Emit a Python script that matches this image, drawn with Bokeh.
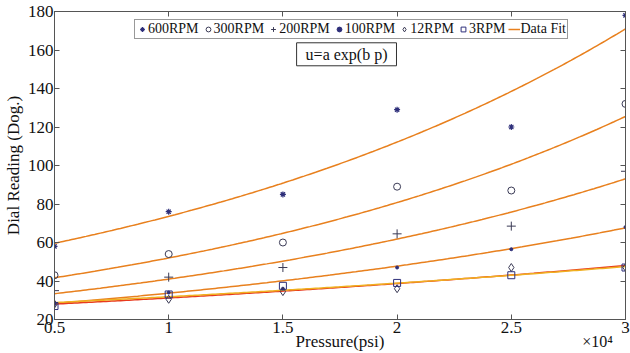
import numpy as np
from bokeh.plotting import figure
from bokeh.models import Range1d, LinearAxis, Legend, LegendItem, Label, FixedTicker
from bokeh.embed import file_html
from bokeh.resources import INLINE

# ---- data ----
pressure = [5000, 10000, 15000, 20000, 25000, 30000]
rpm600 = [58, 76, 85, 129, 120, 178]
rpm300 = [43, 54, 60, 89, 87, 132]
rpm200 = [35, 42, 47, 64.5, 68.5, 97]
rpm100 = [28, 34, 36, 47, 56.5, 68]
rpm12 = [28, 30.5, 34.5, 36, 47, 47]
rpm3 = [27, 33, 37.5, 39, 43, 47]

# fit parameters u = a*exp(b*p)
fit_a = [48.27, 33.45, 27.21, 23.78, 25.14, 26.06]
fit_b = [4.216e-5, 4.407e-5, 4.100e-5, 3.483e-5, 2.156e-5, 2.001e-5]
fit_colors = ["#E8801E", "#E8801E", "#E8801E", "#E8801E", "#E83A1E", "#F0B020"]

x_ticks = [5000, 10000, 15000, 20000, 25000, 30000]
x_tick_labels = ["0.5", "1", "1.5", "2", "2.5", "3"]
y_ticks = [20, 40, 60, 80, 100, 120, 140, 160, 180]
x_exponent_pos = [28780]
x_exponent_label = ["\u00d710\u2074"]

FONT = "Liberation Serif"
NAVY = "#2E2F7A"
DARK = "#3A3A55"

p = figure(width=630, height=353, output_backend="svg", toolbar_location=None,
           x_range=Range1d(5000, 30000), y_range=Range1d(20, 180),
           min_border_left=49, min_border_right=5, min_border_top=11, min_border_bottom=34)
p.xgrid.visible = False
p.ygrid.visible = False
p.outline_line_color = "#555555"
p.background_fill_color = "white"
p.border_fill_color = "white"

for ax in (p.xaxis[0], p.yaxis[0]):
    ax.major_tick_in = 5
    ax.major_tick_out = 0
    ax.minor_tick_in = 0
    ax.minor_tick_out = 0
    ax.axis_line_color = "#555555"
    ax.major_tick_line_color = "#555555"
    ax.major_label_text_font = FONT
    ax.major_label_text_font_size = "17px"
    ax.major_label_text_color = "#111111"
    ax.axis_label_text_font = FONT
    ax.axis_label_text_font_size = "17px"
    ax.axis_label_text_font_style = "normal"
    ax.axis_label_text_color = "#111111"

p.xaxis[0].ticker = FixedTicker(ticks=x_ticks)
p.xaxis[0].major_label_overrides = dict(zip(x_ticks, x_tick_labels))
p.xaxis[0].axis_label = "Pressure(psi)"
p.xaxis[0].major_label_standoff = 2
p.xaxis[0].axis_label_standoff = -4
p.yaxis[0].ticker = FixedTicker(ticks=y_ticks)
p.yaxis[0].axis_label = "Dial Reading (Dog.)"
p.yaxis[0].major_label_standoff = 1
p.yaxis[0].axis_label_standoff = 2

top = LinearAxis(ticker=FixedTicker(ticks=x_ticks),
                 major_label_overrides={t: "" for t in x_ticks},
                 major_tick_in=5, major_tick_out=0, minor_tick_in=0, minor_tick_out=0,
                 axis_line_color="#555555", major_tick_line_color="#555555",
                 major_label_standoff=0)
right = LinearAxis(ticker=FixedTicker(ticks=y_ticks),
                   major_label_overrides={t: "" for t in y_ticks},
                   major_tick_in=5, major_tick_out=0, minor_tick_in=0, minor_tick_out=0,
                   axis_line_color="#555555", major_tick_line_color="#555555",
                   major_label_standoff=0)
p.add_layout(top, "above")
p.add_layout(right, "right")

# exponent note (x 10^4) below the x axis, at the right end
exp_axis = LinearAxis(ticker=FixedTicker(ticks=x_exponent_pos),
                      major_label_overrides=dict(zip(x_exponent_pos, x_exponent_label)),
                      major_tick_in=0, major_tick_out=0, minor_tick_in=0, minor_tick_out=0,
                      axis_line_color=None, major_tick_line_color=None,
                      major_label_text_font=FONT, major_label_text_font_size="16px",
                      major_label_text_color="#111111", major_label_standoff=-21)
p.add_layout(exp_axis, "below")

# fit curves
pp = np.linspace(5000, 30000, 200)
fit_renderers = []
for a, b, c in zip(fit_a, fit_b, fit_colors):
    r = p.line(pp, a * np.exp(b * pp), line_color=c, line_width=1.5)
    fit_renderers.append(r)

r600 = p.scatter(pressure, rpm600, marker="asterisk", size=6, line_color=NAVY, line_width=1.2)
r300 = p.scatter(pressure, rpm300, marker="circle", size=7, fill_color=None, line_color=DARK)
r200 = p.scatter(pressure, rpm200, marker="cross", size=9, line_color=DARK)
r100 = p.scatter(pressure, rpm100, marker="circle", size=3, fill_color=NAVY, line_color=NAVY)
r12 = p.scatter(pressure, rpm12, marker="diamond", size=8, fill_color=None, line_color=DARK)
r3 = p.scatter(pressure, rpm3, marker="square", size=7, fill_color=None, line_color=NAVY)

legend = Legend(items=[
    LegendItem(label="600RPM", renderers=[r600]),
    LegendItem(label="300RPM", renderers=[r300]),
    LegendItem(label="200RPM", renderers=[r200]),
    LegendItem(label="100RPM", renderers=[r100]),
    LegendItem(label="12RPM", renderers=[r12]),
    LegendItem(label="3RPM", renderers=[r3]),
    LegendItem(label="Data Fit", renderers=[fit_renderers[0]]),
], orientation="horizontal", location=(80, 280),
    label_text_font=FONT, label_text_font_size="14px", label_text_color="#111111",
    glyph_width=12, glyph_height=14, label_standoff=0, spacing=3, padding=1, margin=0,
    border_line_color="#333333", border_line_width=1, background_fill_alpha=1,
    label_height=14)
p.add_layout(legend, "center")

eq = Label(x=15600, y=151.8, text="u=a exp(b p)", text_font=FONT, text_font_size="16px",
           text_color="#111111", border_line_color="#333333", background_fill_color="white",
           padding=(9, 3))
p.add_layout(eq)

open("out.html", "w").write(file_html(p, INLINE))
